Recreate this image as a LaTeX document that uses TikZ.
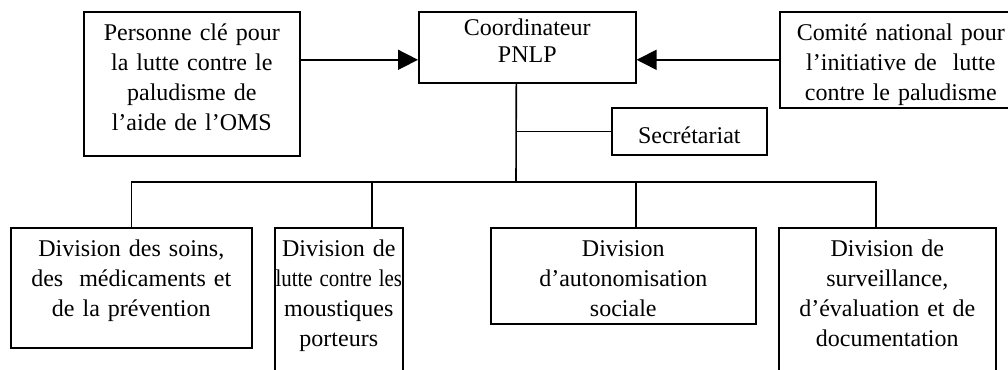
\documentclass[tikz,border=0pt]{standalone}
\usepackage{fontspec}
\usepackage{graphicx}
\setmainfont{Liberation Serif}
\usetikzlibrary{arrows.meta}

\newcommand{\unitfont}{\fontsize{24pt}{30pt}\selectfont}
\newcommand{\headfont}{\fontsize{24pt}{27pt}\selectfont}

\tikzset{
  unit/.style={draw, line width=1.6pt, anchor=north west, align=center,
    inner xsep=0pt, inner ysep=0pt, font=\unitfont, text height=29pt},
  link/.style={line width=1.6pt},
  arr/.style={link, -{Triangle[length=20pt,width=20pt]}},
}

\begin{document}
\begin{tikzpicture}[x=1pt,y=-1pt]
    \useasboundingbox (0,0) rectangle (1008,369);

    % top row
    \node[unit, text width=216pt, text depth=115pt] (pers) at (83,11)
        {Personne clé pour\\la lutte contre le\\paludisme de\\l’aide de l’OMS};
    \node[unit, text width=217pt, text height=24pt, text depth=47pt, font=\headfont] (coord) at (418,11)
        {Coordinateur\\PNLP};
    \node[unit, text width=242pt, text depth=67pt] (comite) at (779,11)
        {Comité national pour\\l’initiative de\ \ lutte\\contre le paludisme};
    \node[unit, text width=155pt, text height=36pt, text depth=11pt] (secr) at (611,107)
        {Secrétariat};

    \draw[arr] ([yshift=24pt]pers.east) -- ([yshift=24pt]pers.east -| coord.west);
    \draw[arr] (comite.west) -- (comite.west -| coord.east);

    % divisions
    \node[unit, text width=241pt, text depth=91pt] (div1) at (10,227)
        {Division des soins,\\des\ \ médicaments et\\de la prévention};
    \node[unit, text width=128pt, text depth=121pt] (div2) at (274,227)
        {Division de\\\scalebox{0.87}[1]{lutte contre les}\\moustiques\\porteurs};
    \node[unit, text width=265pt, text depth=67pt] (div3) at (490,227)
        {Division\\d’autonomisation\\sociale};
    \node[unit, text width=217pt, text depth=121pt] (div4) at (778,227)
        {Division de\\surveillance,\\d’évaluation et de\\documentation};

    \coordinate (hub) at (516,182);
    \draw[link] ([xshift=-11pt]coord.south) -- (hub);
    \draw[link] (secr.west -| hub) -- (secr.west);
    \draw[link] (div1.north) |- (hub);
    \draw[link] ([xshift=33pt]div2.north) |- (hub);
    \draw[link] ([xshift=12.5pt]div3.north) |- (hub);
    \draw[link] ([xshift=-11.5pt]div4.north) |- (hub);
\end{tikzpicture}
\end{document}
